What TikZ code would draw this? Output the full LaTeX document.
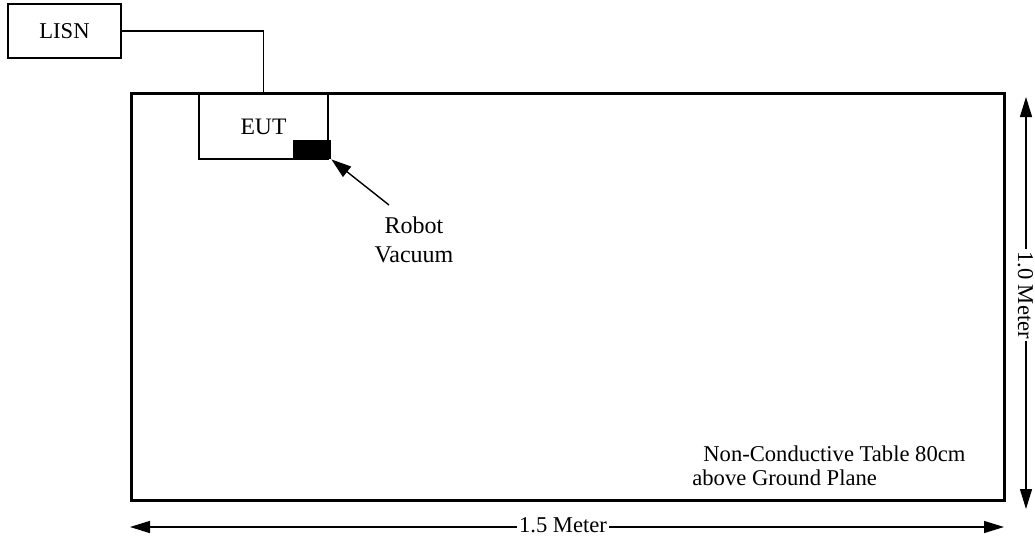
\documentclass[tikz,border=0pt]{standalone}
\usepackage{fontspec}
\setmainfont{Liberation Serif}
\usetikzlibrary{arrows.meta}
\begin{document}
\begin{tikzpicture}[x=0.5pt,y=-0.5pt,
  thinbox/.style={draw, line width=0.6pt, inner sep=0pt},
  lbl/.style={font=\fontsize{11.3}{12.2}\selectfont, inner sep=0pt},
  dim/.style={line width=0.7pt, {Triangle[length=10pt,width=6pt]}-{Triangle[length=10pt,width=6pt]}},
  ptr/.style={line width=0.7pt, -{Triangle[length=10pt,width=6.5pt]}}
]
\useasboundingbox (0,0) rectangle (1035,542);
% table
\node[draw, line width=1.5pt, minimum width=436.5pt, minimum height=203.5pt, inner sep=0pt] (table) at (567.5,296.5) {};
% EUT
\node[thinbox, lbl, font=\fontsize{11.8}{12.2}\selectfont, minimum width=64.5pt, minimum height=32.5pt] (eut) at (263.5,126.5) {EUT};
\node[fill=black, minimum width=19pt, minimum height=9.5pt, inner sep=0pt] (robot) at (312,149.5) {};
% LISN
\node[thinbox, lbl, minimum width=56.5pt, minimum height=27pt] (lisn) at (64.5,31) {LISN};
\draw[line width=0.6pt] (lisn.east) -| (eut.north);
% robot vacuum label
\node[lbl, align=center, font=\fontsize{12}{14.3}\selectfont] (rv) at (414,240) {Robot\\Vacuum};
\coordinate (rvtail) at (389,205);
\draw[ptr] (rvtail) -- (robot.south east);
% table label
\node[lbl, align=left, anchor=north west] (tablelabel) at (692,445) {\hspace*{5.5pt}Non-Conductive Table 80cm\\above Ground Plane};
% dimensions
\coordinate (hL) at (130,527);
\coordinate (hR) at (1004,527);
\draw[dim] (hL) -- (hR);
\node[lbl, fill=white, inner xsep=1pt] (hlab) at (563,525) {1.5 Meter};
\coordinate (vT) at (1026,97);
\coordinate (vB) at (1026,509);
\draw[dim] (vT) -- (vB);
\node[lbl, fill=white, rotate=-90, inner xsep=1pt] (vlab) at (1025.5,295) {1.0 Meter};
\end{tikzpicture}
\end{document}
